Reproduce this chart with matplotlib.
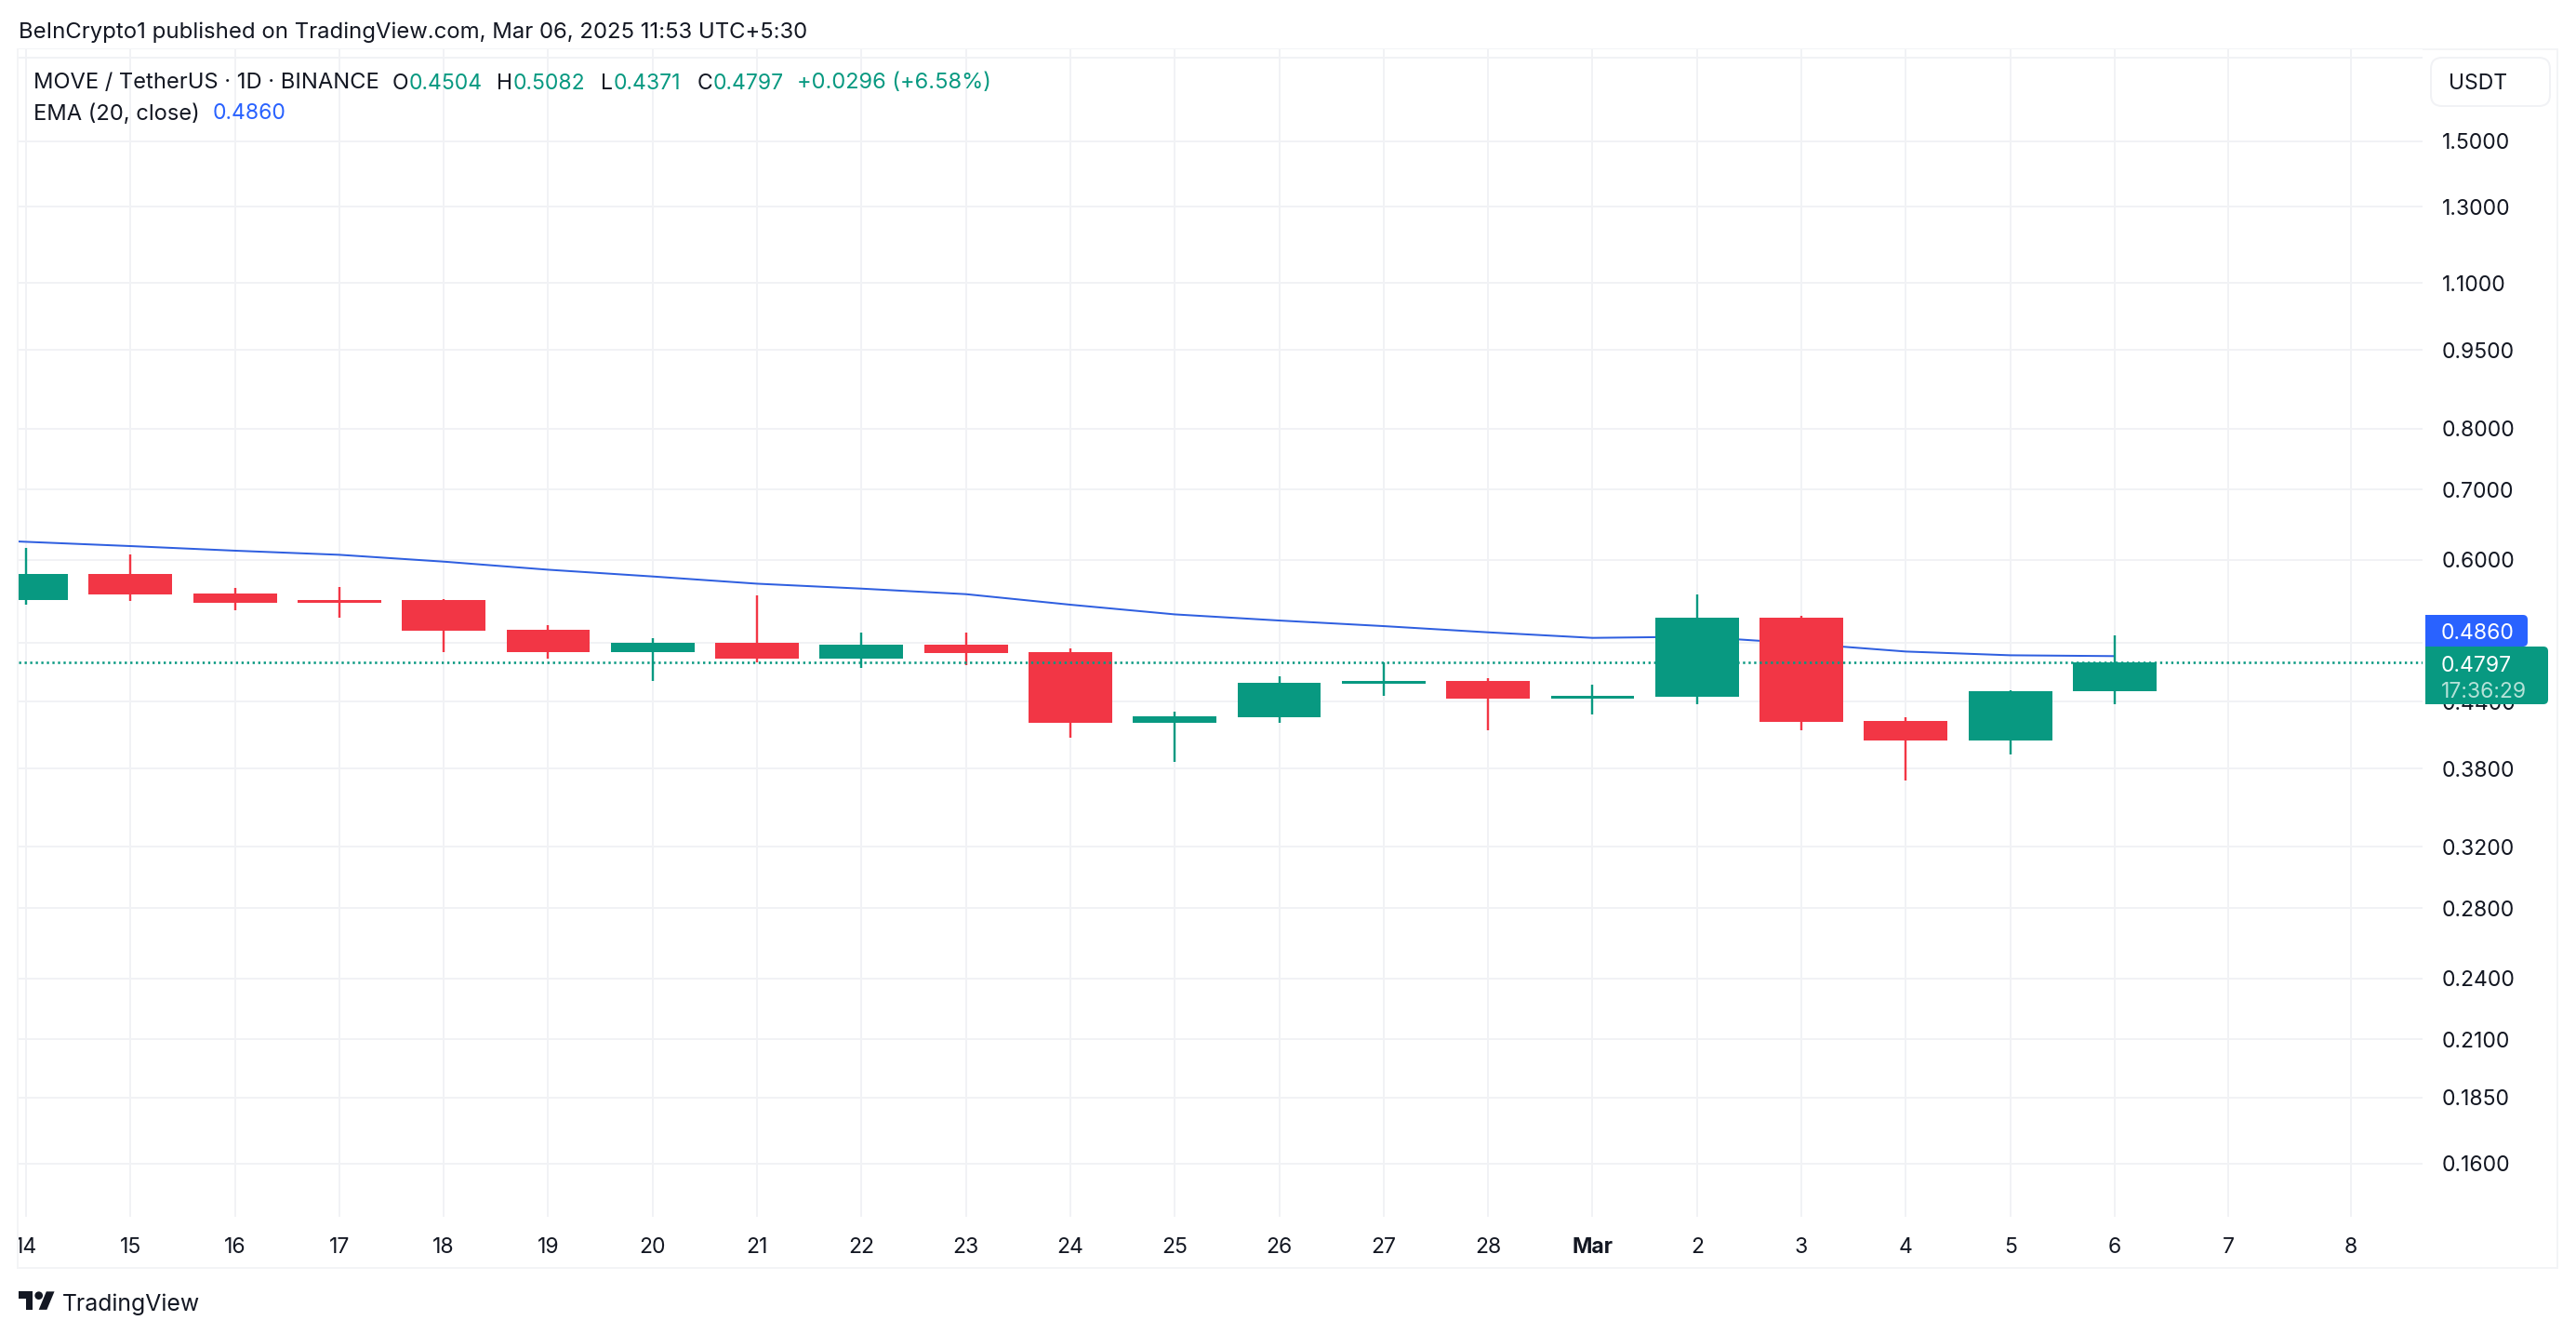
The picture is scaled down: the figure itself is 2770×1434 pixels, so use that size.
import matplotlib
matplotlib.use("Agg")
import matplotlib.pyplot as plt
from matplotlib.patches import FancyBboxPatch, Rectangle, Polygon, Circle
from matplotlib.transforms import IdentityTransform, Bbox

plt.rcParams['font.family'] = ['Inter', 'DejaVu Sans']

# ---------- data ----------
opens  = [0.5498, 0.5821, 0.5577, 0.5498, 0.5498, 0.5152, 0.4906, 0.5007, 0.4836, 0.4986, 0.4906,
          0.4201, 0.4253, 0.4577, 0.4605, 0.4431, 0.4449, 0.5290, 0.4219, 0.4042, 0.4504]
highs  = [0.6163, 0.6075, 0.5646, 0.5658, 0.5509, 0.5204, 0.5058, 0.5555, 0.5120, 0.5120, 0.4946,
          0.4306, 0.4653, 0.4797, 0.4634, 0.4568, 0.5566, 0.5310, 0.4253, 0.4513, 0.5082]
lows   = [0.5443, 0.5487, 0.5377, 0.5290, 0.4906, 0.4836, 0.4605, 0.4797, 0.4739, 0.4768, 0.4066,
          0.3858, 0.4201, 0.4458, 0.4133, 0.4279, 0.4377, 0.4133, 0.3704, 0.3921, 0.4371]
closes = [0.5821, 0.5566, 0.5465, 0.5465, 0.5141, 0.4906, 0.5007, 0.4836, 0.4986, 0.4896, 0.4201,
          0.4262, 0.4587, 0.4605, 0.4431, 0.4458, 0.5290, 0.4210, 0.4042, 0.4504, 0.4797]
days = list(range(21))

ema_days   = [-1] + days
ema_values = [0.6302, 0.6242, 0.6184, 0.6122, 0.6067, 0.5977, 0.5872, 0.5786, 0.5695, 0.5634, 0.5566,
              0.5439, 0.5325, 0.5254, 0.5190, 0.5120, 0.5058, 0.5071, 0.4996, 0.4909, 0.4869, 0.4860]
last_close = 0.4797
last_ema = 0.4860

price_ticks  = [1.8, 1.5, 1.3, 1.1, 0.95, 0.8, 0.7, 0.6, 0.5, 0.44, 0.38, 0.32, 0.28, 0.24, 0.21, 0.185, 0.16]
price_labels = ['', '1.5000', '1.3000', '1.1000', '0.9500', '0.8000', '0.7000', '0.6000', '0.5000',
                '0.4400', '0.3800', '0.3200', '0.2800', '0.2400', '0.2100', '0.1850', '0.1600']
time_ticks  = days + [21.09, 22.26]
time_labels = ['14', '15', '16', '17', '18', '19', '20', '21', '22', '23', '24', '25', '26', '27', '28',
               'Mar', '2', '3', '4', '5', '6', '7', '8']

# ---------- style ----------
W, H = 2770, 1434
GREEN, RED, BLUE = '#089981', '#F23645', '#2962FF'
INK = '#131722'
GRID = '#F1F2F5'
PX = 72 / 100

fig = plt.figure(figsize=(W / 100, H / 100), dpi=100, facecolor='white')
L, R, T, B = 20, 2605, 53, 1308
ax = fig.add_axes([L / W, 1 - B / H, (R - L) / W, (B - T) / H])
ax.set_facecolor('white')
ax.set_yscale('log')
ax.set_xlim(-0.0712, 22.948)
ax.set_ylim(0.1424, 1.835)
for s in ax.spines.values():
    s.set_visible(False)

ax.set_axisbelow(True)
ax.yaxis.tick_right()
ax.set_yticks(price_ticks, price_labels)
ax.set_yticks([], minor=True)
ax.set_xticks(time_ticks, time_labels)
ax.grid(True, color=GRID, lw=2 * PX)
ax.tick_params(axis='y', length=0, pad=21 * PX, labelsize=23 * PX, labelcolor=INK, which='major')
ax.tick_params(axis='y', length=0, which='minor')
ax.tick_params(axis='x', length=0, pad=22 * PX, labelsize=23 * PX, labelcolor=INK)
for t, lab in zip(ax.get_xticklabels(), time_labels):
    if lab == 'Mar':
        t.set_fontweight('bold')
    if lab == '14':
        t.set_clip_on(True)
        t.set_clip_box(Bbox([[L, 0], [W, H]]))

# EMA below the candles
ax.plot(ema_days, ema_values, color='#2F5FE0', lw=2 * PX, zorder=2, solid_capstyle='butt')

# candles
colors = [GREEN if c >= o else RED for o, c in zip(opens, closes)]
ax.vlines(days, lows, highs, colors=colors, lw=2.4 * PX, zorder=3)
tops = [max(o, c) for o, c in zip(opens, closes)]
bots = [min(o, c) for o, c in zip(opens, closes)]
ax.bar(days, [t - b for t, b in zip(tops, bots)], bottom=bots, width=0.8, color=colors, lw=0, zorder=4)

# last price line
ax.axhline(last_close, color=GREEN, lw=2.6 * PX, ls=(0, (0.9, 1.4)), zorder=5)


def box(x0, y0, x1, y1, fc, ec='none', r=5, lw=0, z=5):
    p = FancyBboxPatch((x0, H - y1), x1 - x0, y1 - y0, boxstyle=f'round,pad=0,rounding_size={r}',
                       fc=fc, ec=ec, lw=lw, transform=IdentityTransform(), zorder=z)
    fig.add_artist(p)


def square(x0, y0, x1, y1, fc, z=5):
    fig.add_artist(Rectangle((x0, H - y1), x1 - x0, y1 - y0, fc=fc, ec='none', lw=0,
                             transform=IdentityTransform(), zorder=z))


def txt(x, y, s, color=INK, size=23, ha='left', weight='normal', z=7):
    fig.text(x / W, 1 - y / H, s, color=color, fontsize=size * PX, ha=ha, va='center_baseline',
             fontweight=weight, zorder=z)


# outer frame
fig.add_artist(Rectangle((L - 1, H - 1363), 2750 - L + 1, 1363 - 53, fc='none', ec='#F3F4F6', lw=2 * PX,
                         transform=IdentityTransform(), zorder=-1))

# USDT button
box(2614, 62, 2742, 114, 'white', ec='#F1F2F5', r=12, lw=2 * PX)
txt(2633, 88, 'USDT')

# price labels
box(2608, 661, 2718, 695, BLUE)
square(2608, 661, 2620, 695, BLUE)
txt(2625, 678, f'{last_ema:.4f}', color='white')
box(2608, 695, 2740, 757, GREEN)
square(2608, 695, 2620, 757, GREEN)
txt(2625, 713, f'{last_close:.4f}', color='white')
txt(2625, 741, '17:36:29', color='#B5E2D8')

# header and legend
txt(20, 32, 'BeInCrypto1 published on TradingView.com, Mar 06, 2025 11:53 UTC+5:30', size=23.9)
txt(36, 87, 'MOVE / TetherUS · 1D · BINANCE', size=23.7)
for x, s, c, sz in [(422, 'O', INK, 23), (440, '0.4504', GREEN, 23), (534, 'H', INK, 23), (552, '0.5082', GREEN, 23),
                    (646, 'L', INK, 23), (660, '0.4371', GREEN, 23), (750, 'C', INK, 23), (767, '0.4797', GREEN, 23),
                    (857, '+0.0296 (+6.58%)', GREEN, 23.6)]:
    txt(x, 87, s, color=c, size=sz)
txt(36, 120, 'EMA (20, close)', size=23.7)
txt(229, 120, '0.4860', color='#2962FF')

# TradingView logo
lx, ly, ls = 20, 1384, 1.085


def lp(pts):
    return [(lx + a * ls, H - (ly + b * ls)) for a, b in pts]


fig.add_artist(Polygon(lp([(14, 22), (7, 22), (7, 11), (0, 11), (0, 4), (14, 4)]), fc=INK, ec='none',
                       transform=IdentityTransform()))
fig.add_artist(Polygon(lp([(28, 22), (20, 22), (27.5, 4), (35.5, 4)]), fc=INK, ec='none',
                       transform=IdentityTransform()))
fig.add_artist(Circle(lp([(20, 8)])[0], 4 * ls, fc=INK, ec='none', transform=IdentityTransform()))
txt(67, 1400, 'TradingView', size=24.8)

fig.savefig('out.png', dpi=100, facecolor='white')
